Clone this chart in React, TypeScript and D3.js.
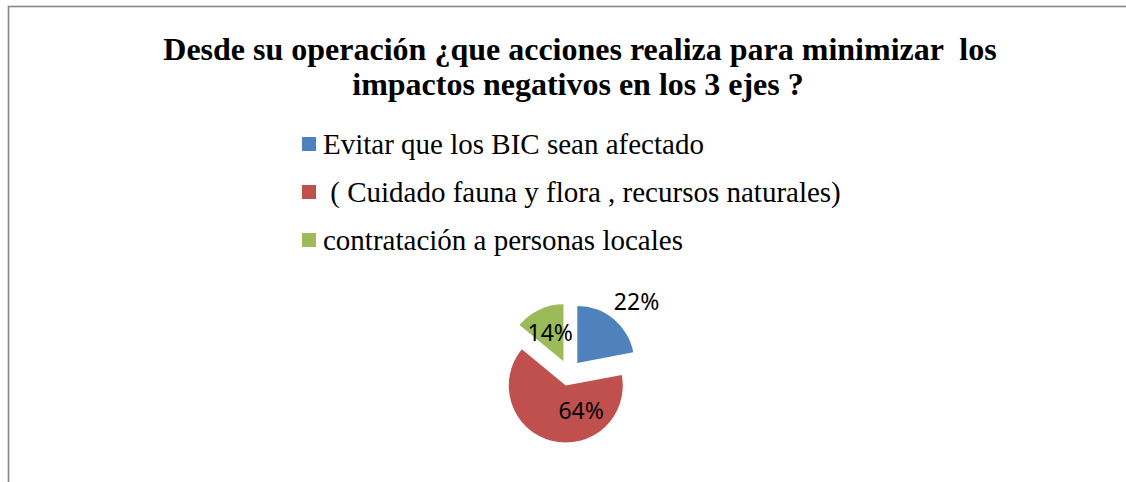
import { useEffect, useRef } from "react";
import * as d3 from "d3";

const categories = [
  "Evitar que los BIC sean afectado",
  " ( Cuidado fauna y flora , recursos naturales)",
  "contratación a personas locales",
];
const values = [22, 64, 14];
const colors = ["#4F81BD", "#C0504D", "#9BBB59"];
const titleLines = [
  "Desde su operación ¿que acciones realiza para minimizar  los",
  "impactos negativos en los 3 ejes ?",
];

const W = 1126;
const H = 482;

const App = () => {
  const ref = useRef<SVGSVGElement | null>(null);

  useEffect(() => {
    const svg = d3.select(ref.current);
    svg.selectAll("*").remove();

    svg.append("rect").attr("width", W).attr("height", H).attr("fill", "#fff");

    // chart frame (runs off the right and bottom of the page)
    svg
      .append("rect")
      .attr("x", 8.5)
      .attr("y", 6.5)
      .attr("width", W + 100)
      .attr("height", H + 100)
      .attr("fill", "none")
      .attr("stroke", "#878787")
      .attr("stroke-width", 1.6);

    const title = svg
      .append("text")
      .attr("font-family", "'Liberation Serif', 'Times New Roman', serif")
      .attr("font-weight", "bold")
      .attr("font-size", 32)
      .attr("text-anchor", "middle")
      .style("white-space", "pre");
    titleLines.forEach((t, i) => {
      title
        .append("tspan")
        .attr("x", i === 0 ? 580 : 578)
        .attr("y", 60 + i * 35)
        .text(t);
    });

    // legend
    const legend = svg
      .append("g")
      .attr("transform", "translate(302,0)")
      .selectAll("g")
      .data(categories)
      .join("g")
      .attr("transform", (_, i) => `translate(0,${144 + i * 48})`);
    legend
      .append("rect")
      .attr("y", -7)
      .attr("width", 14)
      .attr("height", 14)
      .attr("fill", (_, i) => colors[i]);
    legend
      .append("text")
      .attr("x", 21)
      .attr("y", 10)
      .attr("font-family", "'Liberation Serif', 'Times New Roman', serif")
      .attr("font-size", 29)
      .attr("fill", "#000")
      .style("white-space", "pre")
      .text((d) => d);

    // pie
    const cx = 569;
    const cy = 373;
    const r = 57;
    const explode = 13;
    const pie = d3.pie<number>().sort(null).value((d) => d);
    const arcs = pie(values);
    const arc = d3.arc<d3.PieArcDatum<number>>().innerRadius(0).outerRadius(r);
    const total = d3.sum(values);

    // label distance from centre and angular shift, per slice (Excel best-fit)
    const labelR = [98, 40, 44];
    const labelShift = [4, -32, 0];

    const g = svg.append("g").attr("transform", `translate(${cx},${cy})`);
    arcs.forEach((a, i) => {
      const mid = (a.startAngle + a.endAngle) / 2;
      const dx = Math.sin(mid) * explode;
      const dy = -Math.cos(mid) * explode;
      g.append("path")
        .attr("d", arc(a)!)
        .attr("transform", `translate(${dx},${dy})`)
        .attr("fill", colors[i]);
    });
    arcs.forEach((a, i) => {
      const mid = (a.startAngle + a.endAngle) / 2 + (labelShift[i] * Math.PI) / 180;
      g.append("text")
        .attr("x", Math.sin(mid) * labelR[i])
        .attr("y", -Math.cos(mid) * labelR[i])
        .attr("dy", "0.35em")
        .attr("text-anchor", "middle")
        .attr("font-family", "'Noto Sans', 'Open Sans', sans-serif")
        .attr("font-size", 23)
        .attr("fill", "#000")
        .text(`${Math.round((a.data / total) * 100)}%`);
    });
  }, []);

  return (
    <svg
      ref={ref}
      width={W}
      height={H}
      style={{ position: "absolute", left: 0, top: 0, display: "block" }}
    />
  );
};

export default App;
